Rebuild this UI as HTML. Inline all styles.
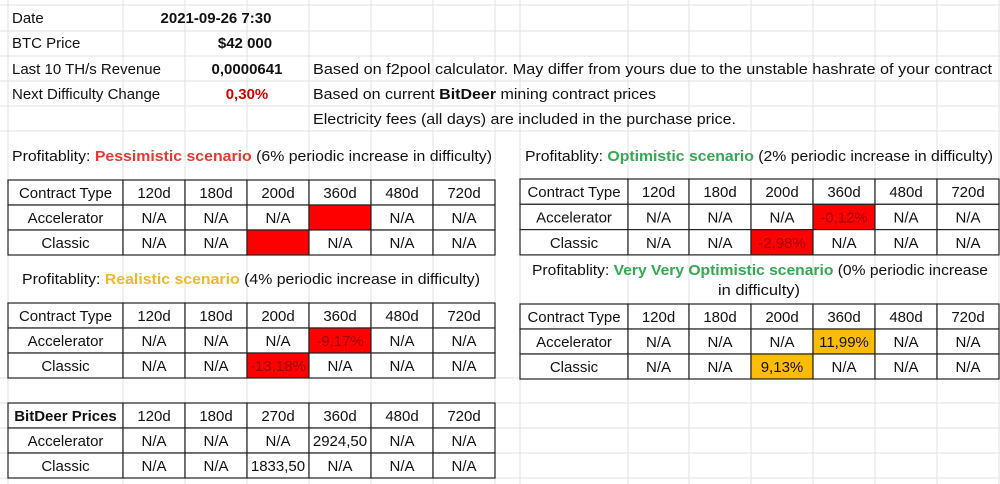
<!DOCTYPE html>
<html><head><meta charset="utf-8"><style>
html,body{margin:0;padding:0;background:#fff;}
svg{display:block;font-family:"Liberation Sans",sans-serif;}
</style></head><body>
<svg id="s" width="1000" height="484" viewBox="0 0 1000 484" xmlns="http://www.w3.org/2000/svg">
<g id="grid"></g>
<g id="info" font-size="15" fill="#111">
<text x="12" y="23">Date</text>
<text x="216" y="23" text-anchor="middle" font-weight="bold">2021-09-26 7:30</text>
<text x="12" y="48">BTC Price</text>
<text x="245" y="48" text-anchor="middle" font-weight="bold">$42 000</text>
<text x="12" y="74">Last 10 TH/s Revenue</text>
<text x="247" y="74" text-anchor="middle" font-weight="bold">0,0000641</text>
<text x="12" y="99">Next Difficulty Change</text>
<text x="247" y="99" text-anchor="middle" font-weight="bold" fill="#d40000">0,30%</text>
<text x="313" y="74" textLength="679" lengthAdjust="spacingAndGlyphs">Based on f2pool calculator. May differ from yours due to the unstable hashrate of your contract</text>
<text x="313" y="99" textLength="343" lengthAdjust="spacingAndGlyphs">Based on current <tspan font-weight="bold">BitDeer</tspan> mining contract prices</text>
<text x="313" y="124" textLength="423" lengthAdjust="spacingAndGlyphs">Electricity fees (all days) are included in the purchase price.</text>
</g>
<g font-size="15" fill="#111">
<text x="12" y="161" textLength="480" lengthAdjust="spacingAndGlyphs">Profitablity: <tspan fill="#e03c31" font-weight="bold">Pessimistic scenario</tspan> (6% periodic increase in difficulty)</text>
<text x="525" y="161" textLength="468" lengthAdjust="spacingAndGlyphs">Profitablity: <tspan fill="#34a853" font-weight="bold">Optimistic scenario</tspan> (2% periodic increase in difficulty)</text>
<text x="22" y="284" textLength="458" lengthAdjust="spacingAndGlyphs">Profitablity: <tspan fill="#f1b829" font-weight="bold">Realistic scenario</tspan> (4% periodic increase in difficulty)</text>
<text x="532" y="275" textLength="456" lengthAdjust="spacingAndGlyphs">Profitablity: <tspan fill="#34a853" font-weight="bold">Very Very Optimistic scenario</tspan> (0% periodic increase</text>
<text x="718" y="295" textLength="82" lengthAdjust="spacingAndGlyphs">in difficulty)</text>
</g>
<g id="tables"></g>
</svg>
<script>
const NS="http://www.w3.org/2000/svg";
const svg=document.getElementById('s');
const grid=document.getElementById('grid');
const tables=document.getElementById('tables');
const headers=["120d","180d","200d","360d","480d","720d"];
const priceHeaders=["120d","180d","270d","360d","480d","720d"];
const pessAcc=["N/A","N/A","N/A","","N/A","N/A"];
const pessCls=["N/A","N/A","","N/A","N/A","N/A"];
const optAcc=["N/A","N/A","N/A","-0,12%","N/A","N/A"];
const optCls=["N/A","N/A","-2,98%","N/A","N/A","N/A"];
const realAcc=["N/A","N/A","N/A","-9,17%","N/A","N/A"];
const realCls=["N/A","N/A","-13,18%","N/A","N/A","N/A"];
const vvoAcc=["N/A","N/A","N/A","11,99%","N/A","N/A"];
const vvoCls=["N/A","N/A","9,13%","N/A","N/A","N/A"];
const priceAcc=["N/A","N/A","N/A","2924,50","N/A","N/A"];
const priceCls=["N/A","N/A","1833,50","N/A","N/A","N/A"];
function mk(tag,attrs,parent){const e=document.createElementNS(NS,tag);for(const k in attrs)e.setAttribute(k,attrs[k]);parent.appendChild(e);return e;}
// background grid
const gx=[8,123,185,247,309,371,433,495,520,628,689,751,813,875,937,999];
gx.forEach(x=>{const l=mk('line',{x1:x,y1:0,x2:x,y2:484,stroke:'#e2e2e2','stroke-width':1},grid);

});
const gy=[5,31,56,81,106,131,378,403,428,453,478];
gy.forEach(y=>{const l=mk('line',{x1:0,y1:y,x2:1000,y2:y,stroke:'#e2e2e2','stroke-width':1},grid);

});
function table(name,x0,cols,y0,rh,hdr,first,r1,r2,fills,boldFirst){
  const g=mk('g',{},tables);
  
  
  const rows=[[first].concat(hdr),["Accelerator"].concat(r1),["Classic"].concat(r2)];
  let xs=[x0];cols.forEach(w=>xs.push(xs[xs.length-1]+w));
  rows.forEach((row,ri)=>{
    row.forEach((v,ci)=>{
      const x=xs[ci],w=cols[ci],y=y0+ri*rh;
      let fill='#fff',tc='#111';
      if(ri>0&&ci>0){const f=fills[ri-1][ci-1];if(f==='r'){fill='#ff0000';tc='#9a0000';}else if(f==='y'){fill='#fbbc04';}}
      const r=mk('rect',{x:x,y:y,width:w,height:rh,fill:fill,stroke:'#222','stroke-width':1.2},g);
      
      
      const t=mk('text',{x:x+w/2,y:y+rh/2+5.5,'text-anchor':'middle','font-size':15,fill:tc},g);
      if(ri===0&&ci===0&&boldFirst)t.setAttribute('font-weight','bold');
      t.textContent=v;
      
      
    });
  });
}
const L=[115,62,62,62,62,62,62], R=[108,61,62,62,62,62,62];
const none=[[0,0,0,0,0,0],[0,0,0,0,0,0]];
table('pessimistic-table',8,L,180,25,headers,"Contract Type",pessAcc,pessCls,[[0,0,0,'r',0,0],[0,0,'r',0,0,0]]);
table('optimistic-table',520,R,179,25.3,headers,"Contract Type",optAcc,optCls,[[0,0,0,'r',0,0],[0,0,'r',0,0,0]]);
table('realistic-table',8,L,303,25,headers,"Contract Type",realAcc,realCls,[[0,0,0,'r',0,0],[0,0,'r',0,0,0]]);
table('very-optimistic-table',520,R,304,25,headers,"Contract Type",vvoAcc,vvoCls,[[0,0,0,'y',0,0],[0,0,'y',0,0,0]]);
table('bitdeer-prices-table',8,L,403,25,priceHeaders,"BitDeer Prices",priceAcc,priceCls,none,true);
</script>
</body></html>
